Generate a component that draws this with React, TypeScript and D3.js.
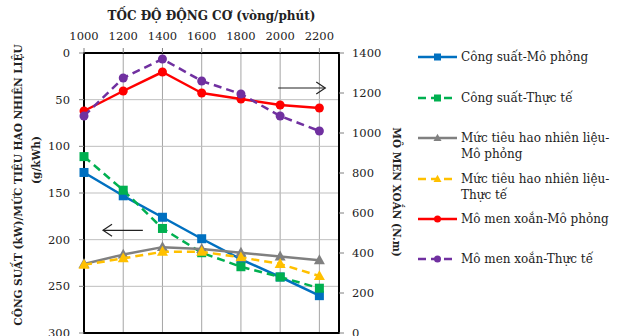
import * as d3 from "d3";

// engine speed (rpm)
const rpm = [1000, 1200, 1400, 1600, 1800, 2000, 2200];

// left axis (reversed): power kW / fuel consumption g/kWh
const congSuatMoPhong = [128, 153, 176, 199, 221, 240, 260];
const congSuatThucTe = [111, 147, 188, 214, 229, 240, 252];
const tieuHaoMoPhong = [226, 216, 208, 210, 214, 218, 222];
const tieuHaoThucTe = [227, 220, 213, 213, 219, 226, 239];

// right axis: torque N.m
const momenMoPhong = [1110, 1210, 1305, 1200, 1170, 1140, 1125];
const momenThucTe = [1085, 1275, 1370, 1260, 1195, 1085, 1010];

const xTicks = [1000, 1200, 1400, 1600, 1800, 2000, 2200];
const leftTicks = [0, 50, 100, 150, 200, 250, 300];
const rightTicks = [0, 200, 400, 600, 800, 1000, 1200, 1400];

const FONT = "'DejaVu Serif', serif";

type Series = {
  name: string[];
  values: number[];
  axis: "left" | "right";
  color: string;
  dashed: boolean;
  marker: "square" | "triangle" | "circle";
};

const series: Series[] = [
  { name: ["Công suất-Mô phỏng"], values: congSuatMoPhong, axis: "left", color: "#0070C0", dashed: false, marker: "square" },
  { name: ["Công suất-Thực tế"], values: congSuatThucTe, axis: "left", color: "#00B050", dashed: true, marker: "square" },
  { name: ["Mức tiêu hao nhiên liệu-", "Mô phỏng"], values: tieuHaoMoPhong, axis: "left", color: "#808080", dashed: false, marker: "triangle" },
  { name: ["Mức tiêu hao nhiên liệu-", "Thực tế"], values: tieuHaoThucTe, axis: "left", color: "#FFC000", dashed: true, marker: "triangle" },
  { name: ["Mô men xoắn-Mô phỏng"], values: momenMoPhong, axis: "right", color: "#FF0000", dashed: false, marker: "circle" },
  { name: ["Mô men xoắn-Thực tế"], values: momenThucTe, axis: "right", color: "#7030A0", dashed: true, marker: "circle" },
];

function Marker({ type, x, y, color, size }: { type: string; x: number; y: number; color: string; size: number }) {
  if (type === "square") {
    return <rect x={x - size / 2} y={y - size / 2} width={size} height={size} fill={color} />;
  }
  if (type === "circle") {
    return <circle cx={x} cy={y} r={size / 2} fill={color} />;
  }
  const h = size * 0.9;
  return (
    <path
      d={`M${x},${y - h * 0.6} L${x + size / 2},${y + h * 0.4} L${x - size / 2},${y + h * 0.4} Z`}
      fill={color}
    />
  );
}

export default function App() {
  const width = 622;
  const height = 336;
  const x = d3.scaleLinear().domain([1000, 2300]).range([84, 339]);
  const yLeft = d3.scaleLinear().domain([0, 300]).range([53, 333]);
  const yRight = d3.scaleLinear().domain([0, 1400]).range([333, 53]);

  const lineFor = (s: Series) =>
    d3
      .line<number>()
      .x((_, i) => x(rpm[i]))
      .y((v) => (s.axis === "left" ? yLeft(v) : yRight(v)))(s.values) || "";

  const [x0, x1] = x.range();
  const [y0, y1] = yLeft.range();

  const legendY = [57, 98, 138, 179, 219, 259];

  return (
    <svg
      width={width}
      height={height}
      style={{ position: "fixed", left: 0, top: 0, background: "#fff" }}
      fontFamily={FONT}
    >
      {/* grid */}
      {xTicks.map((t) => (
        <line key={"gx" + t} x1={x(t)} x2={x(t)} y1={y0} y2={y1} stroke="#A6A6A6" strokeWidth={1} />
      ))}
      {leftTicks.map((t) => (
        <line key={"gy" + t} x1={x0} x2={x1} y1={yLeft(t)} y2={yLeft(t)} stroke="#BFBFBF" strokeWidth={1} />
      ))}

      {/* plot border */}
      <rect x={x0} y={y0} width={x1 - x0} height={y1 - y0} fill="none" stroke="#000" strokeWidth={2} />

      {/* top axis */}
      {xTicks.map((t) => (
        <g key={"tx" + t}>
          <line x1={x(t)} x2={x(t)} y1={y0} y2={y0 - 5} stroke="#808080" />
          <text x={x(t)} y={y0 - 13} textAnchor="middle" fontSize={11.5} fill="#222">
            {t}
          </text>
        </g>
      ))}
      <text x={(x0 + x1) / 2} y={20} textAnchor="middle" fontSize={12} fontWeight="bold" fill="#222">
        TỐC ĐỘ ĐỘNG CƠ (vòng/phút)
      </text>

      {/* left axis */}
      {leftTicks.map((t) => (
        <g key={"ly" + t}>
          <line x1={x0} x2={x0 - 5} y1={yLeft(t)} y2={yLeft(t)} stroke="#808080" />
          <text x={x0 - 14} y={yLeft(t)} dy="0.35em" textAnchor="end" fontSize={11.5} fill="#222">
            {t}
          </text>
        </g>
      ))}
      <text
        transform={`translate(22,185) rotate(-90)`}
        textAnchor="middle"
        fontSize={10.5}
        fontWeight="bold"
        fill="#222"
      >
        CÔNG SUẤT (kW)/MỨC TIÊU HAO NHIÊN LIỆU
      </text>
      <text transform={`translate(40,160) rotate(-90)`} textAnchor="middle" fontSize={10.5} fontWeight="bold" fill="#222">
        (g/kWh)
      </text>

      {/* right axis */}
      {rightTicks.map((t) => (
        <g key={"ry" + t}>
          <line x1={x1} x2={x1 + 5} y1={yRight(t)} y2={yRight(t)} stroke="#808080" />
          <text x={x1 + 13} y={yRight(t)} dy="0.35em" textAnchor="start" fontSize={11.5} fill="#222">
            {t}
          </text>
        </g>
      ))}
      <text transform={`translate(393,192) rotate(90)`} textAnchor="middle" fontSize={10.5} fontWeight="bold" fill="#222">
        MÔ MEN XOẮN (N.m)
      </text>

      {/* arrows */}
      <g stroke="#222" strokeWidth={1.2} fill="none">
        <line x1={x(1990)} x2={x(2230)} y1={yRight(1225)} y2={yRight(1225)} />
        <path d={`M${x(2230) - 9},${yRight(1225) - 6} L${x(2230)},${yRight(1225)} L${x(2230) - 9},${yRight(1225) + 6}`} />
        <line x1={x(1300)} x2={x(1097)} y1={yLeft(190)} y2={yLeft(190)} />
        <path d={`M${x(1097) + 9},${yLeft(190) - 6} L${x(1097)},${yLeft(190)} L${x(1097) + 9},${yLeft(190) + 6}`} />
      </g>

      {/* series */}
      {series.map((s) => (
        <g key={s.name.join("")}>
          <path
            d={lineFor(s)}
            fill="none"
            stroke={s.color}
            strokeWidth={2.5}
            strokeDasharray={s.dashed ? "8,5" : undefined}
            strokeLinejoin="round"
          />
          {s.values.map((v, i) => (
            <Marker
              key={i}
              type={s.marker}
              x={x(rpm[i])}
              y={s.axis === "left" ? yLeft(v) : yRight(v)}
              color={s.color}
              size={s.marker === "circle" ? 9 : s.marker === "triangle" ? 11 : 9}
            />
          ))}
        </g>
      ))}

      {/* legend */}
      {series.map((s, i) => (
        <g key={"lg" + i} transform={`translate(0,${legendY[i]})`}>
          <line
            x1={418}
            x2={457}
            y1={0}
            y2={0}
            stroke={s.color}
            strokeWidth={2.5}
            strokeDasharray={s.dashed ? "8,5" : undefined}
          />
          <Marker type={s.marker} x={437.5} y={0} color={s.color} size={s.marker === "circle" ? 7 : s.marker === "triangle" ? 8 : 7} />
          {s.name.map((n, j) => (
            <text key={j} x={461} y={j * 16} dy="0.35em" fontSize={12} fill="#222">
              {n}
            </text>
          ))}
        </g>
      ))}
    </svg>
  );
}
